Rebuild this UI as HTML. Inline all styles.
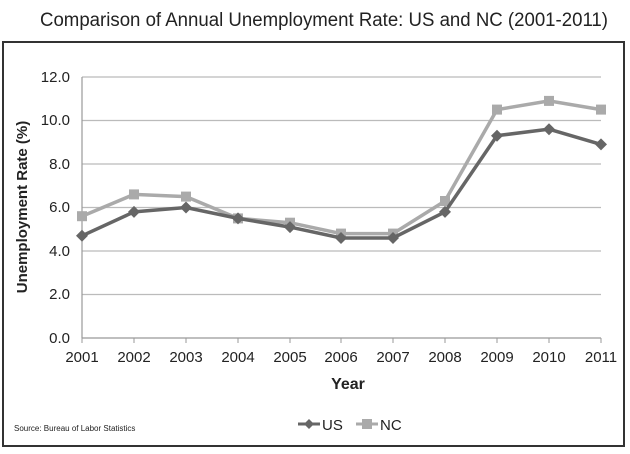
<!DOCTYPE html>
<html><head><style>body{margin:0;background:#fff}</style></head><body>
<svg width="630" height="454" xmlns="http://www.w3.org/2000/svg" style="display:block">
<rect width="630" height="454" fill="#fff"/>
<text x="40" y="26" textLength="568" lengthAdjust="spacingAndGlyphs" font-family="Liberation Sans, sans-serif" font-size="19" fill="#222">Comparison of Annual Unemployment Rate: US and NC (2001-2011)</text>
<rect x="3" y="42" width="621" height="404" fill="#fff" stroke="#333" stroke-width="2"/>
<g stroke="#bbb" stroke-width="1.2">
<line x1="82" y1="77" x2="601" y2="77"/><line x1="82" y1="120.5" x2="601" y2="120.5"/><line x1="82" y1="164" x2="601" y2="164"/><line x1="82" y1="207.5" x2="601" y2="207.5"/><line x1="82" y1="251" x2="601" y2="251"/><line x1="82" y1="294.5" x2="601" y2="294.5"/>
</g>
<line x1="82" y1="77" x2="82" y2="338" stroke="#999" stroke-width="1.2"/>
<line x1="82" y1="338" x2="601" y2="338" stroke="#999" stroke-width="1.2"/>
<g stroke="#999"><line x1="82" y1="338" x2="82" y2="343"/><line x1="134" y1="338" x2="134" y2="343"/><line x1="186" y1="338" x2="186" y2="343"/><line x1="238" y1="338" x2="238" y2="343"/><line x1="290" y1="338" x2="290" y2="343"/><line x1="341" y1="338" x2="341" y2="343"/><line x1="393" y1="338" x2="393" y2="343"/><line x1="445" y1="338" x2="445" y2="343"/><line x1="497" y1="338" x2="497" y2="343"/><line x1="549" y1="338" x2="549" y2="343"/><line x1="601" y1="338" x2="601" y2="343"/></g>
<g font-family="Liberation Sans, sans-serif" font-size="15" fill="#222" text-anchor="end">
<text x="70" y="82">12.0</text><text x="70" y="125">10.0</text><text x="70" y="169">8.0</text><text x="70" y="212">6.0</text><text x="70" y="256">4.0</text><text x="70" y="299">2.0</text><text x="70" y="343">0.0</text>
</g>
<g font-family="Liberation Sans, sans-serif" font-size="15" fill="#222" text-anchor="middle">
<text x="82" y="362">2001</text><text x="134" y="362">2002</text><text x="186" y="362">2003</text><text x="238" y="362">2004</text><text x="290" y="362">2005</text><text x="341" y="362">2006</text><text x="393" y="362">2007</text><text x="445" y="362">2008</text><text x="497" y="362">2009</text><text x="549" y="362">2010</text><text x="601" y="362">2011</text>
</g>
<text x="348" y="389" text-anchor="middle" font-family="Liberation Sans, sans-serif" font-size="16" font-weight="bold" fill="#222">Year</text>
<text transform="translate(27,207) rotate(-90)" text-anchor="middle" font-family="Liberation Sans, sans-serif" font-size="15" font-weight="bold" fill="#222">Unemployment Rate (%)</text>
<polyline fill="none" stroke="#aaa" stroke-width="3.5" points="82,216.2 134,194.4 186,196.6 238,218.4 290,222.7 341,233.6 393,233.6 445,201 497,109.6 549,100.9 601,109.6"/>
<g fill="#aaa"><rect x="77" y="211.2" width="10" height="10"/><rect x="129" y="189.4" width="10" height="10"/><rect x="181" y="191.6" width="10" height="10"/><rect x="233" y="213.4" width="10" height="10"/><rect x="285" y="217.7" width="10" height="10"/><rect x="336" y="228.6" width="10" height="10"/><rect x="388" y="228.6" width="10" height="10"/><rect x="440" y="196" width="10" height="10"/><rect x="492" y="104.6" width="10" height="10"/><rect x="544" y="95.9" width="10" height="10"/><rect x="596" y="104.6" width="10" height="10"/></g>
<polyline fill="none" stroke="#666" stroke-width="3.5" points="82,235.8 134,211.9 186,207.5 238,218.4 290,227.1 341,238 393,238 445,211.9 497,135.7 549,129.2 601,144.4"/>
<g fill="#666">
<path d="M82 229.8l6 6-6 6-6-6z"/><path d="M134 205.9l6 6-6 6-6-6z"/><path d="M186 201.5l6 6-6 6-6-6z"/><path d="M238 212.4l6 6-6 6-6-6z"/><path d="M290 221.1l6 6-6 6-6-6z"/><path d="M341 232l6 6-6 6-6-6z"/><path d="M393 232l6 6-6 6-6-6z"/><path d="M445 205.9l6 6-6 6-6-6z"/><path d="M497 129.7l6 6-6 6-6-6z"/><path d="M549 123.2l6 6-6 6-6-6z"/><path d="M601 138.4l6 6-6 6-6-6z"/>
</g>
<line x1="298" y1="424" x2="320" y2="424" stroke="#666" stroke-width="3"/><path d="M309 419l5 5-5 5-5-5z" fill="#666"/>
<text x="322" y="430" font-family="Liberation Sans, sans-serif" font-size="15" fill="#222">US</text>
<line x1="356" y1="424" x2="378" y2="424" stroke="#aaa" stroke-width="3"/><rect x="362" y="419" width="10" height="10" fill="#aaa"/>
<text x="380" y="430" font-family="Liberation Sans, sans-serif" font-size="15" fill="#222">NC</text>
<text x="14" y="431" font-family="Liberation Sans, sans-serif" font-size="8" fill="#222">Source: Bureau of Labor Statistics</text>
</svg>
</body></html>
